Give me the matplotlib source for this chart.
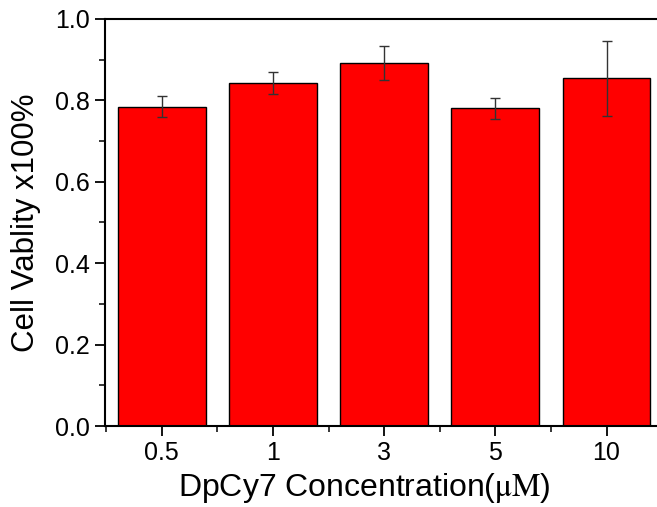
import matplotlib
matplotlib.use("Agg")
import matplotlib.pyplot as plt
from matplotlib.ticker import MultipleLocator, FixedLocator

plt.rcParams['font.family'] = ['Liberation Sans', 'DejaVu Sans']
plt.rcParams['mathtext.fontset'] = 'stix'

# Data
concentrations = ['0.5', '1', '3', '5', '10']
viability = [0.784, 0.843, 0.892, 0.781, 0.854]
err = [0.026, 0.027, 0.042, 0.026, 0.092]

fig = plt.figure(figsize=(6.57, 5.07), dpi=100)
ax = fig.add_axes([105 / 657, 81 / 507, 556 / 657, 407 / 507])

pos = list(range(len(concentrations)))
ax.bar(pos, viability, width=0.79, color='#ff0000', edgecolor='black',
       linewidth=1.0, zorder=2)
ax.errorbar(pos, viability, yerr=err, fmt='none', ecolor='#333333',
            elinewidth=1.0, capsize=3.5, capthick=1.0, zorder=3)

ax.set_xlim(-0.51, 4.49)
ax.set_ylim(0.0, 1.0)
ax.set_xticks(pos)
ax.set_xticklabels(concentrations)
ax.xaxis.set_minor_locator(FixedLocator([p + 0.5 for p in pos[:-1]] + [-0.5]))
ax.yaxis.set_major_locator(MultipleLocator(0.2))
ax.yaxis.set_minor_locator(MultipleLocator(0.1))
ax.yaxis.set_major_formatter(plt.FuncFormatter(lambda v, _: '%.1f' % v))

ax.tick_params(axis='both', which='major', direction='out', length=7,
               width=1.3, labelsize=18, pad=4)
ax.tick_params(axis='both', which='minor', direction='out', length=4,
               width=1.1)
ax.tick_params(top=False, right=False, which='both')

for s in ax.spines.values():
    s.set_linewidth(1.5)

ax.set_ylabel('Cell Vablity x100%', fontsize=22.5, labelpad=10)
ax.set_xlabel(r'DpCy7 Concentration($\mathrm{\mu M}$)', fontsize=23,
              labelpad=3)
# label sits a bit left of the axes centre in the original
ax.xaxis.set_label_coords(0.466, -0.11)
ax.xaxis.label.set_verticalalignment('top')

fig.savefig('out.png', dpi=100)
